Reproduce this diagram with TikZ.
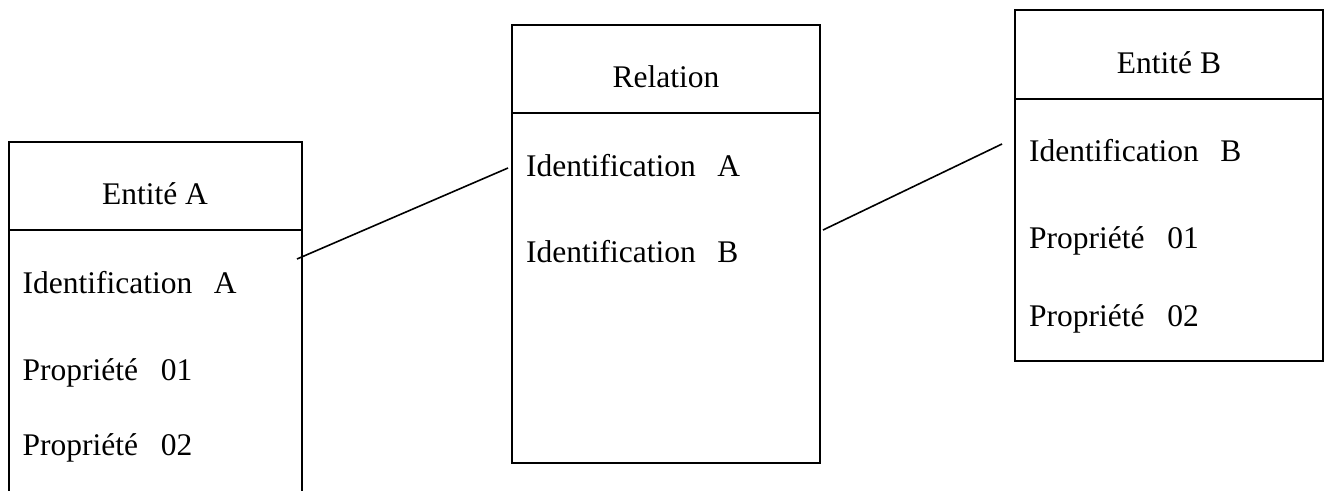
\documentclass[tikz,border=0pt]{standalone}
\usepackage{fontspec}
\setmainfont{Liberation Serif}
\begin{document}
\begin{tikzpicture}[x=1pt,y=-1pt,
  boxline/.style={line width=2pt, line cap=rect},
  link/.style={line width=1.6pt},
  lbl/.style={inner sep=0pt, anchor=base west, font=\fontsize{31.5}{38}\selectfont},
  title/.style={inner sep=0pt, anchor=base, font=\fontsize{31.5}{38}\selectfont}]
\useasboundingbox (0,0) rectangle (1330,490);

% Entité A (open at the bottom)
\draw[boxline] (8.5,492) -- (8.5,142) -- (302,142) -- (302,492);
\draw[boxline] (8.5,230) -- (302,230);
\node[title] (ta) at (155,204) {Entité A};
\node[lbl] (a1) at (22.5,293) {Identification\hspace{0.68em}A};
\node[lbl] (a2) at (22.5,380) {Propriété\hspace{0.72em}01};
\node[lbl] (a3) at (22.5,455) {Propriété\hspace{0.72em}02};

% Relation
\draw[boxline] (512,25) rectangle (820,463);
\draw[boxline] (512,113) -- (820,113);
\node[title] (tr) at (666,87) {Relation};
\node[lbl] (r1) at (526,176) {Identification\hspace{0.68em}A};
\node[lbl] (r2) at (526,262) {Identification\hspace{0.68em}B};

% Entité B
\draw[boxline] (1015,10) rectangle (1323,361);
\draw[boxline] (1015,99) -- (1323,99);
\node[title] (tb) at (1169,73) {Entité B};
\node[lbl] (b1) at (1029,161) {Identification\hspace{0.68em}B};
\node[lbl] (b2) at (1029,248) {Propriété\hspace{0.72em}01};
\node[lbl] (b3) at (1029,326) {Propriété\hspace{0.72em}02};

% connector ends
\coordinate (ea) at (297,259);
\coordinate (era) at (508,168);
\coordinate (erb) at (823,230);
\coordinate (eb) at (1002,144);
\draw[link] (ea) -- (era);
\draw[link] (erb) -- (eb);
\end{tikzpicture}
\end{document}
